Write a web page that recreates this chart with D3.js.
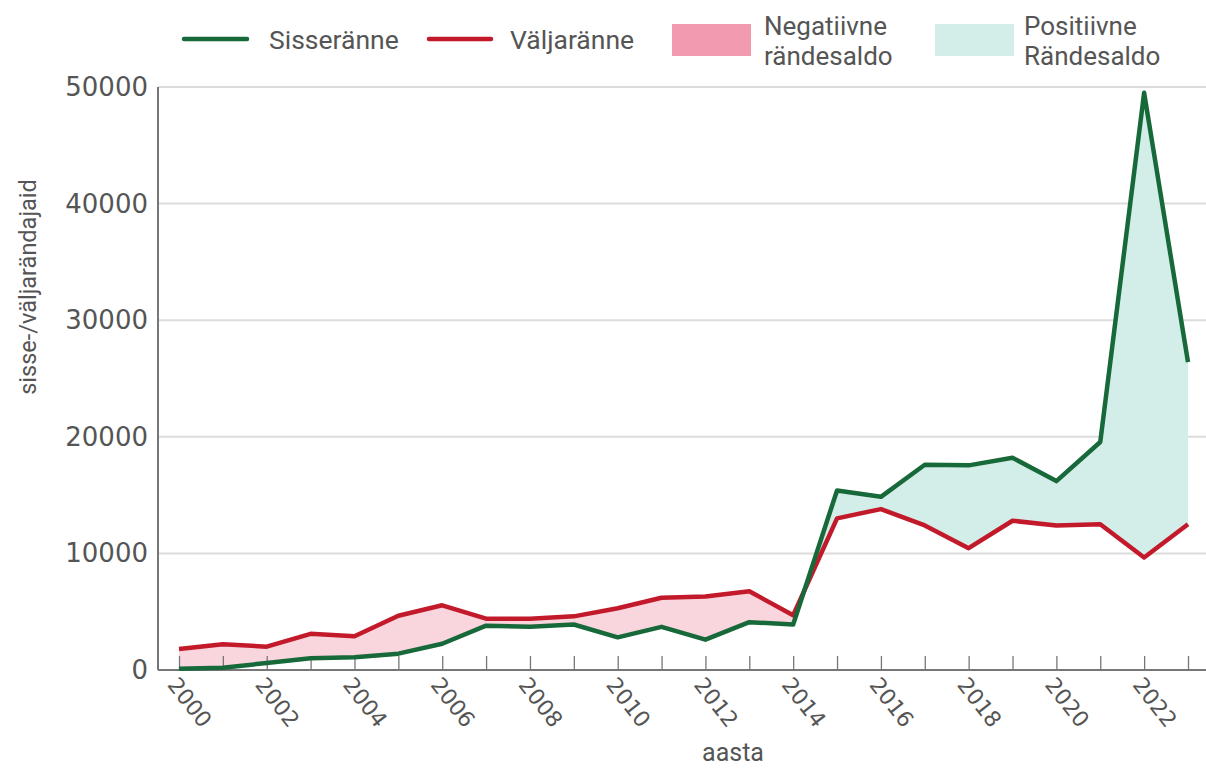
<html lang="et">
<head>
    <meta charset="UTF-8">
    <title>Sisse- ja väljaränne</title>
    <script src="https://d3js.org/d3.v7.min.js"></script>
    <style>
        body { margin: 0; background: #fff; }
        .line { fill: none; stroke-width: 4.5px; stroke-linejoin: round; }
        .grid line { stroke: #dcdcdc; stroke-width: 2px; }
        .lbl { font-family: Roboto, sans-serif; fill: #555; }
        .num { font-family: "DejaVu Sans", sans-serif; fill: #555; }
    </style>
</head>
<body>
    <svg width="1206" height="770"></svg>
    <script>
        // aasta, sisseränne, väljaränne
        const years = [2000, 2001, 2002, 2003, 2004, 2005, 2006, 2007, 2008, 2009, 2010, 2011,
                       2012, 2013, 2014, 2015, 2016, 2017, 2018, 2019, 2020, 2021, 2022, 2023];
        const immigration = [100, 200, 600, 1000, 1100, 1400, 2250, 3800, 3700, 3900, 2800, 3700,
                             2600, 4100, 3900, 15400, 14850, 17600, 17550, 18200, 16200, 19550, 49500, 26400];
        const emigration = [1800, 2200, 2000, 3100, 2900, 4650, 5550, 4400, 4400, 4600, 5300, 6200,
                            6300, 6750, 4700, 13000, 13800, 12400, 10450, 12800, 12400, 12500, 9650, 12500];
        const yTicks = [0, 10000, 20000, 30000, 40000, 50000];
        const xLabelYears = [2000, 2002, 2004, 2006, 2008, 2010, 2012, 2014, 2016, 2018, 2020, 2022];

        const data = years.map((y, i) => ({year: y, inn: immigration[i], out: emigration[i]}));

        const svg = d3.select("svg");
        const axisLeftX = 158, plotRight = 1206;

        const x = d3.scaleLinear().domain([2000, 2023]).range([179, 1188]);
        const y = d3.scaleLinear().domain([0, 50000]).range([670, 87]);

        // ruudustik
        svg.append("g")
            .attr("class", "grid")
            .selectAll("line")
            .data(yTicks.filter(d => d > 0))
            .join("line")
            .attr("x1", axisLeftX).attr("x2", plotRight)
            .attr("y1", d => y(d)).attr("y2", d => y(d));

        // alad: lõikame jooniste piirkonnad
        const defs = svg.append("defs");
        defs.append("clipPath").attr("id", "aboveOut")
            .append("path")
            .attr("d", d3.area().x(d => x(d.year)).y0(0).y1(d => y(d.out))(data));
        defs.append("clipPath").attr("id", "aboveInn")
            .append("path")
            .attr("d", d3.area().x(d => x(d.year)).y0(0).y1(d => y(d.inn))(data));

        svg.append("path")
            .datum(data)
            .attr("clip-path", "url(#aboveOut)")
            .attr("fill", "#d3eee8")
            .attr("d", d3.area().x(d => x(d.year)).y0(y(0)).y1(d => y(d.inn)));

        svg.append("path")
            .datum(data)
            .attr("clip-path", "url(#aboveInn)")
            .attr("fill", "#f9d5dd")
            .attr("d", d3.area().x(d => x(d.year)).y0(y(0)).y1(d => y(d.out)));

        // x telg
        const xAxis = svg.append("g")
            .attr("transform", `translate(0,${y(0)})`)
            .call(d3.axisBottom(x)
                .tickValues(years)
                .tickSizeInner(-14)
                .tickSizeOuter(0)
                .tickFormat(d => xLabelYears.includes(d) ? d : ""));
        xAxis.select(".domain").remove();
        xAxis.selectAll(".tick line").attr("stroke", "#777").attr("stroke-width", 1.3);
        xAxis.selectAll("text")
            .attr("class", "num")
            .attr("y", 0).attr("dy", 0)
            .attr("text-anchor", "start")
            .attr("font-size", 22)
            .attr("transform", "translate(-13,15) rotate(52)");

        svg.append("line")
            .attr("x1", axisLeftX).attr("x2", plotRight)
            .attr("y1", y(0)).attr("y2", y(0))
            .attr("stroke", "#777").attr("stroke-width", 2);
        svg.append("line")
            .attr("x1", axisLeftX).attr("x2", axisLeftX)
            .attr("y1", y(50000)).attr("y2", y(0))
            .attr("stroke", "#777").attr("stroke-width", 2);

        // y telje sildid
        svg.append("g")
            .selectAll("text")
            .data(yTicks)
            .join("text")
            .attr("class", "num")
            .attr("x", 148)
            .attr("y", d => y(d) + 9)
            .attr("text-anchor", "end")
            .attr("font-size", 26)
            .text(d => d);

        // jooned
        svg.append("path")
            .datum(data)
            .attr("class", "line")
            .attr("stroke", "#c21a2b")
            .attr("d", d3.line().x(d => x(d.year)).y(d => y(d.out)));
        svg.append("path")
            .datum(data)
            .attr("class", "line")
            .attr("stroke", "#17693a")
            .attr("d", d3.line().x(d => x(d.year)).y(d => y(d.inn)));

        // telgede pealkirjad
        svg.append("text")
            .attr("class", "lbl")
            .attr("transform", "translate(36,287) rotate(-90)")
            .attr("text-anchor", "middle")
            .attr("font-size", 23.5)
            .text("sisse-/väljarändajaid");
        svg.append("text")
            .attr("class", "lbl")
            .attr("x", 733).attr("y", 761)
            .attr("text-anchor", "middle")
            .attr("font-size", 25)
            .text("aasta");

        // legend
        const legend = svg.append("g");
        legend.append("line").attr("x1", 184).attr("x2", 247).attr("y1", 39).attr("y2", 39)
            .attr("stroke", "#17693a").attr("stroke-width", 4.5).attr("stroke-linecap", "round");
        legend.append("text").attr("class", "lbl").attr("x", 269).attr("y", 49)
            .attr("font-size", 26.5).text("Sisseränne");
        legend.append("line").attr("x1", 429).attr("x2", 491).attr("y1", 39).attr("y2", 39)
            .attr("stroke", "#c21a2b").attr("stroke-width", 4.5).attr("stroke-linecap", "round");
        legend.append("text").attr("class", "lbl").attr("x", 510).attr("y", 49)
            .attr("font-size", 26.5).text("Väljaränne");

        legend.append("rect").attr("x", 672).attr("y", 24).attr("width", 79).attr("height", 32)
            .attr("fill", "#f29bae");
        legend.append("text").attr("class", "lbl").attr("x", 764).attr("y", 35)
            .attr("font-size", 26).text("Negatiivne");
        legend.append("text").attr("class", "lbl").attr("x", 764).attr("y", 65)
            .attr("font-size", 26).text("rändesaldo");

        legend.append("rect").attr("x", 935).attr("y", 24).attr("width", 79).attr("height", 32)
            .attr("fill", "#d3eee8");
        legend.append("text").attr("class", "lbl").attr("x", 1024).attr("y", 35)
            .attr("font-size", 26).text("Positiivne");
        legend.append("text").attr("class", "lbl").attr("x", 1024).attr("y", 65)
            .attr("font-size", 26).text("Rändesaldo");
    </script>
</body>
</html>
